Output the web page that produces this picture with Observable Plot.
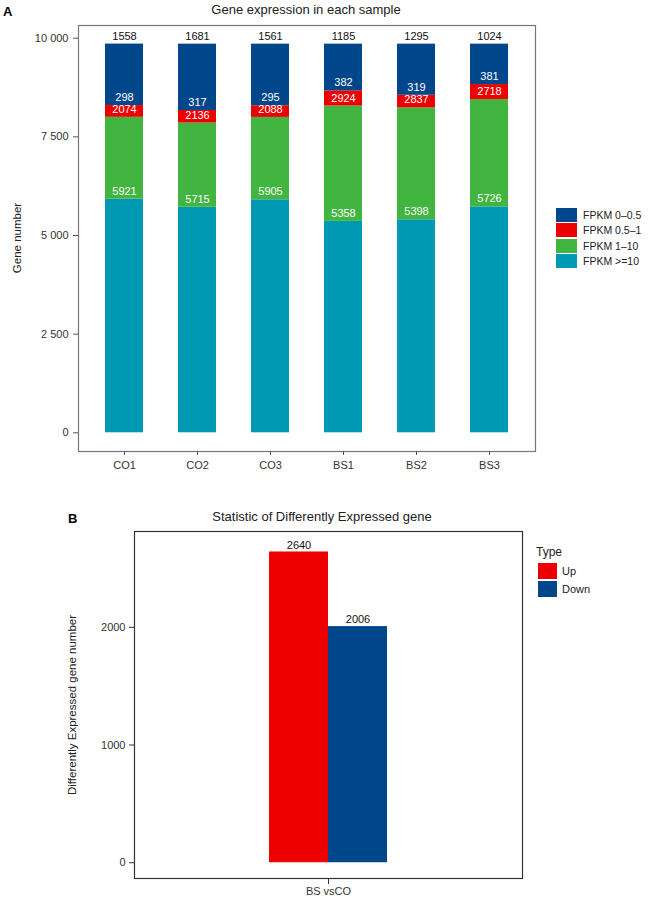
<!DOCTYPE html>
<html>
<head>
<meta charset="utf-8">
<script src="https://cdn.jsdelivr.net/npm/d3@7"></script>
<script src="https://cdn.jsdelivr.net/npm/@observablehq/plot@0.6"></script>
<style>
  html, body { margin: 0; padding: 0; background: #fff; }
  #root { position: relative; width: 652px; height: 900px; font-family: "Liberation Sans", Arial, sans-serif; color: #222; overflow: hidden; }
  .abs { position: absolute; white-space: nowrap; line-height: 1; }
  .c { transform: translate(-50%, -50%); }
  .rot { transform: translate(-50%, -50%) rotate(-90deg); }
  .sw { position: absolute; }
</style>
</head>
<body>
<div id="root">
  <div id="chartA" class="abs" style="left:0;top:0"></div>
  <div id="chartB" class="abs" style="left:0;top:500px"></div>
</div>
<script>
// ---------- Data: panel A ----------
const samples = ["CO1", "CO2", "CO3", "BS1", "BS2", "BS3"];
const categories = ["FPKM 0–0.5", "FPKM 0.5–1", "FPKM 1–10", "FPKM >=10"];
const colorsA = ["#00468B", "#ED0000", "#42B540", "#0099B4"];
const fpkm0to05 = [1558, 1681, 1561, 1185, 1295, 1024];
const fpkm05to1 = [298, 317, 295, 382, 319, 381];
const fpkm1to10 = [2074, 2136, 2088, 2924, 2837, 2718];
const fpkmGe10 = [5921, 5715, 5905, 5358, 5398, 5726];
const yTicksA = [0, 2500, 5000, 7500, 10000];
const yTickLabelsA = ["0", "2 500", "5 000", "7 500", "10 000"];

// ---------- Data: panel B ----------
const comparisons = ["BS vsCO"];
const types = ["Up", "Down"];
const colorsB = ["#ED0000", "#00468B"];
const degCounts = [2640, 2006];
const yTicksB = [0, 1000, 2000];

// ---------- Build tables ----------
const stackOrder = [categories[3], categories[2], categories[1], categories[0]];
const seriesA = [[categories[3], fpkmGe10], [categories[2], fpkm1to10], [categories[1], fpkm05to1], [categories[0], fpkm0to05]];
const dataA = seriesA.flatMap(([cat, vals]) => samples.map((s, i) => ({sample: s, category: cat, value: vals[i]})));
const dataB = types.map((t, i) => ({comparison: comparisons[0], type: t, count: degCounts[i]}));

const font = "'Liberation Sans', Arial, sans-serif";

const chartA = Plot.plot({
  width: 652, height: 480,
  marginTop: 25, marginBottom: 29, marginLeft: 78, marginRight: 117,
  style: {fontFamily: font, fontSize: "11px", color: "#333", background: "transparent"},
  x: {type: "band", domain: samples, paddingInner: 0.482, paddingOuter: 0.353, label: null},
  y: {domain: [-474, 10322], label: null},
  color: {domain: categories, range: colorsA},
  marks: [
    Plot.barY(dataA, Plot.stackY({x: "sample", y: "value", fill: "category", order: stackOrder})),
    Plot.text(dataA, Plot.stackY2({x: "sample", y: "value", z: "category", order: stackOrder,
      text: d => d.category === categories[0] ? null : String(d.value), fill: "white", dy: -8, fontSize: 11})),
    Plot.text(dataA, Plot.stackY2({x: "sample", y: "value", z: "category", order: stackOrder,
      text: d => d.category === categories[0] ? String(d.value) : null, fill: "#111", dy: -8, fontSize: 11})),
    Plot.frame({stroke: "#777", strokeWidth: 1.2}),
    Plot.axisY({ticks: yTicksA, tickFormat: d => yTickLabelsA[yTicksA.indexOf(d)], tickSize: 5, tickPadding: 5, label: null, stroke: "#555"}),
    Plot.axisX({tickSize: 4, tickPadding: 6, label: null, stroke: "#555"})
  ]
});
document.getElementById("chartA").appendChild(chartA);

const chartB = Plot.plot({
  width: 652, height: 400,
  marginTop: 31, marginBottom: 22, marginLeft: 134, marginRight: 130,
  style: {fontFamily: font, fontSize: "11px", color: "#333", background: "transparent"},
  fx: {domain: comparisons, paddingInner: 0, paddingOuter: 0, label: null},
  x: {type: "band", domain: types, paddingInner: 0, paddingOuter: 2.25, axis: null},
  y: {domain: [-134, 2814], label: null},
  color: {domain: types, range: colorsB},
  marks: [
    Plot.barY(dataB, {fx: "comparison", x: "type", y: "count", fill: "type"}),
    Plot.text(dataB, {fx: "comparison", x: "type", y: "count", text: d => String(d.count), dy: -7, fill: "#111", fontSize: 11}),
    Plot.frame({stroke: "#333", strokeWidth: 1.2}),
    Plot.axisY({ticks: yTicksB, tickFormat: d => String(d), tickSize: 5, tickPadding: 4, label: null, stroke: "#333"}),
    Plot.axisFx({anchor: "bottom", tickSize: 6, tickPadding: 3, label: null, stroke: "#333"})
  ]
});
document.getElementById("chartB").appendChild(chartB);

// ---------- Overlay text & legends ----------
const root = document.getElementById("root");
function addText(txt, x, y, cls, style) {
  const d = document.createElement("div");
  d.className = "abs " + cls;
  d.textContent = txt;
  d.style.left = x + "px"; d.style.top = y + "px";
  Object.assign(d.style, style || {});
  root.appendChild(d);
  return d;
}
addText("A", 3, 5, "", {fontWeight: "bold", fontSize: "13px", color: "#000"});
addText("Gene expression in each sample", 306, 9, "c", {fontSize: "13px", color: "#222"});
addText("Gene number", 18, 238, "rot", {fontSize: "11.5px", color: "#222"});

addText("B", 68, 512, "", {fontWeight: "bold", fontSize: "13px", color: "#000"});
addText("Statistic of Differently Expressed gene", 322, 516, "c", {fontSize: "13px", color: "#222"});
addText("Differently Expressed gene number", 73, 705, "rot", {fontSize: "11.5px", color: "#222"});

// Legend A
categories.forEach((cat, i) => {
  const y = 208 + i * 15.3;
  const s = document.createElement("div");
  s.className = "sw";
  Object.assign(s.style, {left: "556px", top: y + "px", width: "20.5px", height: "14px", background: colorsA[i]});
  root.appendChild(s);
  addText(cat, 583, y + 2, "", {fontSize: "10.5px", color: "#222"});
});

// Legend B
addText("Type", 536, 546, "", {fontSize: "12px", color: "#222"});
types.forEach((t, i) => {
  const y = 563 + i * 18;
  const s = document.createElement("div");
  s.className = "sw";
  Object.assign(s.style, {left: "538px", top: y + "px", width: "18.5px", height: "15.5px", background: colorsB[i]});
  root.appendChild(s);
  addText(t, 562, y + 2.5, "", {fontSize: "11px", color: "#222"});
});
</script>
</body>
</html>
